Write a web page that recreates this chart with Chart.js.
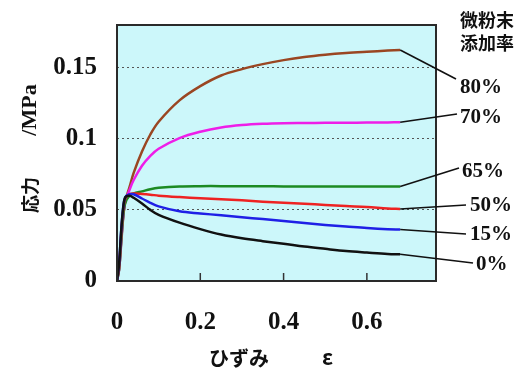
<!DOCTYPE html>
<html>
<head>
<meta charset="utf-8">
<script src="https://cdn.jsdelivr.net/npm/chart.js@4"></script>
<style>
  html, body { margin: 0; padding: 0; background: #fff; }
</style>
</head>
<body>
<canvas id="stressChart" width="520" height="368"></canvas>
<script>
// strain (x) shared by every curve
const strain   = [0, 0.005, 0.01, 0.015, 0.02, 0.03, 0.04, 0.06, 0.08, 0.1, 0.15, 0.2, 0.25, 0.3, 0.35, 0.4, 0.45, 0.5, 0.55, 0.6, 0.65, 0.68];
// stress /MPa for each powder ratio
const stress0  = [0, 0.012, 0.035, 0.052, 0.059, 0.060, 0.0585, 0.0545, 0.050, 0.0465, 0.041, 0.0365, 0.0327, 0.030, 0.028, 0.0262, 0.0242, 0.0226, 0.0211, 0.020, 0.019, 0.0188];
const stress15 = [0, 0.012, 0.035, 0.052, 0.059, 0.061, 0.061, 0.058, 0.055, 0.0525, 0.049, 0.0475, 0.0462, 0.0448, 0.0436, 0.0422, 0.0407, 0.0394, 0.0383, 0.0372, 0.0364, 0.0362];
const stress50 = [0, 0.010, 0.032, 0.050, 0.058, 0.061, 0.0615, 0.0612, 0.0607, 0.060, 0.059, 0.0582, 0.0575, 0.0567, 0.0558, 0.0551, 0.0543, 0.0535, 0.0527, 0.052, 0.051, 0.0506];
const stress65 = [0, 0.008, 0.028, 0.046, 0.055, 0.060, 0.0615, 0.063, 0.0645, 0.0655, 0.0665, 0.0667, 0.0667, 0.0666, 0.0666, 0.0665, 0.0665, 0.0664, 0.0664, 0.0664, 0.0664, 0.0665];
const stress70 = [0, 0.008, 0.028, 0.046, 0.056, 0.064, 0.071, 0.081, 0.088, 0.093, 0.1005, 0.105, 0.108, 0.1097, 0.1106, 0.111, 0.1111, 0.1112, 0.1113, 0.1114, 0.1115, 0.1116];
const stress80 = [0, 0.008, 0.026, 0.045, 0.056, 0.066, 0.076, 0.091, 0.103, 0.112, 0.127, 0.137, 0.1445, 0.149, 0.1525, 0.1553, 0.1575, 0.1591, 0.1603, 0.1612, 0.162, 0.1624];

const seriesNames = ['0%', '15%', '50%', '65%', '70%', '80%'];
const xTicks = [0, 0.2, 0.4, 0.6];
const yTicks = [0, 0.05, 0.1, 0.15];
const headerLines = ['微粉末', '添加率'];
const xTitle = ['ひずみ', 'ε'];
const yTitle = ['応力', '/MPa'];

const colors = ['#111111', '#1f1fe6', '#ee2222', '#1c8a22', '#ee1ee8', '#9a4622'];
// where each percentage label sits (left x, middle y) and where its leader line ends
const labelSpots = [
    { x: 476, y: 265, lx: 473, ly: 263 },
    { x: 470, y: 235, lx: 466, ly: 234 },
    { x: 470, y: 206, lx: 466, ly: 205 },
    { x: 462, y: 172, lx: 459, ly: 168 },
    { x: 460, y: 118, lx: 457, ly: 114 },
    { x: 460, y: 88,  lx: 456, ly: 79 },
];

const allStress = [stress0, stress15, stress50, stress65, stress70, stress80];
const serif = 'Liberation Serif, Times New Roman, serif';
const cjk = 'Noto Sans CJK JP, sans-serif';

const datasets = allStress.map((vals, i) => ({
    label: seriesNames[i],
    data: strain.map((s, j) => ({ x: s, y: vals[j] })),
    borderColor: colors[i],
    borderWidth: 2.5,
    pointRadius: 0,
    tension: 0.35,
    fill: false,
}));

const decorPlugin = {
    id: 'decor',
    beforeDraw(chart) {
        const { ctx, chartArea: a } = chart;
        ctx.save();
        ctx.fillStyle = '#ccf7fa';
        ctx.fillRect(a.left, a.top, a.right - a.left, a.bottom - a.top);
        ctx.restore();
    },
    afterDraw(chart) {
        const { ctx, chartArea: a } = chart;
        const xs = chart.scales.x;
        const ys = chart.scales.y;
        ctx.save();

        // inner tick marks on the bottom axis
        ctx.strokeStyle = '#333';
        ctx.lineWidth = 1.5;
        xTicks.slice(1).forEach(v => {
            const px = xs.getPixelForValue(v);
            ctx.beginPath();
            ctx.moveTo(px, a.bottom);
            ctx.lineTo(px, a.bottom - 8);
            ctx.stroke();
        });

        // plot frame
        ctx.lineWidth = 2;
        ctx.strokeStyle = '#2a2a2a';
        ctx.strokeRect(a.left, a.top, a.right - a.left, a.bottom - a.top);

        // leader lines + percentage labels
        ctx.fillStyle = '#111';
        ctx.strokeStyle = '#111';
        ctx.lineWidth = 1.6;
        ctx.font = 'bold 21px ' + serif;
        ctx.textAlign = 'left';
        ctx.textBaseline = 'middle';
        allStress.forEach((vals, i) => {
            const last = vals.length - 1;
            const sx = xs.getPixelForValue(strain[last]);
            const sy = ys.getPixelForValue(vals[last]);
            const spot = labelSpots[i];
            ctx.beginPath();
            ctx.moveTo(sx, sy);
            ctx.lineTo(spot.lx, spot.ly);
            ctx.stroke();
            ctx.fillText(seriesNames[i], spot.x, spot.y);
        });

        // header over the labels
        ctx.font = 'bold 18px ' + cjk;
        ctx.textAlign = 'center';
        ctx.fillText(headerLines[0], 487, 20);
        ctx.fillText(headerLines[1], 487, 43);

        // x axis title
        ctx.font = 'bold 20px ' + cjk;
        ctx.textAlign = 'left';
        ctx.fillText(xTitle[0], 209, 358);
        ctx.font = 'bold 21px ' + cjk;
        ctx.fillText(xTitle[1], 322, 357);

        // y axis title, rotated
        ctx.translate(30, 0);
        ctx.rotate(-Math.PI / 2);
        ctx.textAlign = 'center';
        ctx.font = 'bold 18px ' + cjk;
        ctx.fillText(yTitle[0], -195, 0);
        ctx.font = 'bold 22px ' + serif;
        ctx.fillText(yTitle[1], -110, 0);

        ctx.restore();
    }
};

new Chart(document.getElementById('stressChart'), {
    type: 'line',
    data: { datasets: datasets },
    options: {
        responsive: false,
        animation: false,
        devicePixelRatio: 1,
        layout: { padding: { left: 0, right: 84, top: 25, bottom: 0 } },
        plugins: {
            legend: { display: false },
            tooltip: { enabled: false },
        },
        scales: {
            x: {
                type: 'linear',
                min: 0,
                max: 0.766,
                afterBuildTicks: (scale) => { scale.ticks = xTicks.map(v => ({ value: v })); },
                afterFit: (scale) => { scale.height = 87; scale.paddingLeft = 0; scale.paddingRight = 0; },
                grid: { display: false },
                border: { display: false },
                ticks: {
                    padding: 19,
                    color: '#111',
                    font: { family: serif, size: 25, weight: 'bold' },
                    callback: (v) => String(v),
                },
            },
            y: {
                type: 'linear',
                min: 0,
                max: 0.18,
                afterBuildTicks: (scale) => { scale.ticks = yTicks.map(v => ({ value: v })); },
                afterFit: (scale) => { scale.width = 117; scale.paddingTop = 0; scale.paddingBottom = 0; },
                grid: {
                    drawTicks: false,
                    lineWidth: 1,
                    color: (c) => (c.tick && c.tick.value > 0 ? '#555' : 'rgba(0,0,0,0)'),
                },
                border: { display: false, dash: [2, 3] },
                ticks: {
                    padding: 20,
                    color: '#111',
                    font: { family: serif, size: 25, weight: 'bold' },
                    callback: (v) => String(v),
                },
            },
        },
    },
    plugins: [decorPlugin],
});
</script>
</body>
</html>
